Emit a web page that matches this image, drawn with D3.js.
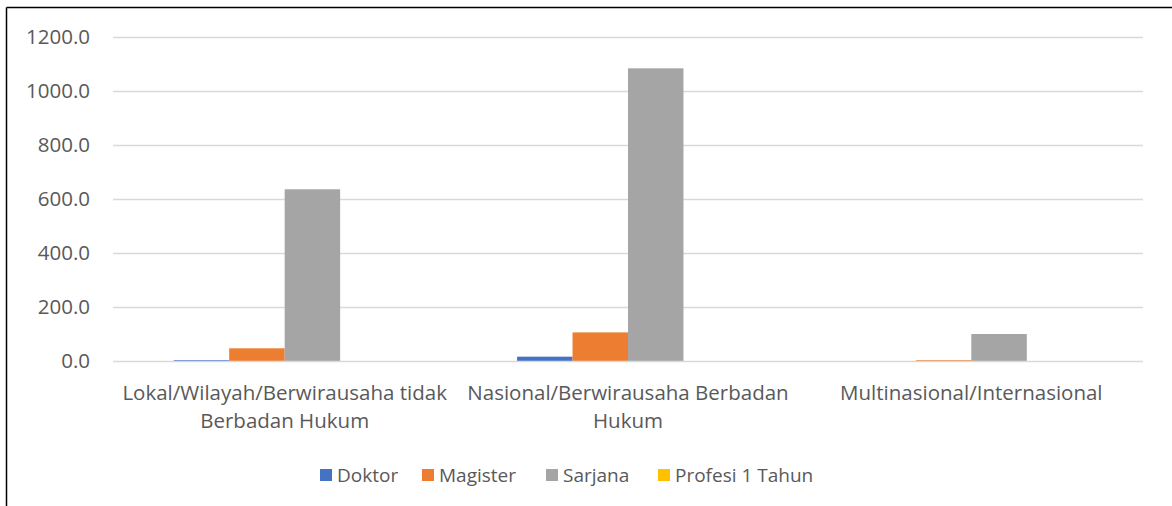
<!DOCTYPE html>
<html>
<head>
<meta charset="utf-8">
<script src="https://cdn.jsdelivr.net/npm/d3@7"></script>
<style>
  body { margin: 0; background: #fff; }
  svg { display: block; font-family: 'Open Sans', sans-serif; }
</style>
</head>
<body>
<svg id="chart" width="1172" height="506"></svg>
<script>
const categories = [
  'Lokal/Wilayah/Berwirausaha tidak Berbadan Hukum',
  'Nasional/Berwirausaha Berbadan Hukum',
  'Multinasional/Internasional'
];
const seriesNames = ['Doktor', 'Magister', 'Sarjana', 'Profesi 1 Tahun'];
const colors = ['#4472c4', '#ed7d31', '#a5a5a5', '#ffc000'];
const doktor = [3, 16, 0];
const magister = [47, 106, 3];
const sarjana = [636, 1084, 100];
const profesi = [0, 0, 0];
const yTicks = [0, 200, 400, 600, 800, 1000, 1200];

const values = [doktor, magister, sarjana, profesi];
const w = 1172, h = 506;
const margin = { top: 37, right: 29, bottom: 145, left: 113 };
const axisFont = '20.5px';
const legendFont = '19px';
const svg = d3.select('#chart');

// frame (only top and left edges show in the reference)
svg.append('line').attr('x1', 6.5).attr('x2', w).attr('y1', 7.5).attr('y2', 7.5)
  .attr('stroke', '#000').attr('stroke-width', 1.5);
svg.append('line').attr('x1', 6.5).attr('x2', 6.5).attr('y1', 7.5).attr('y2', h)
  .attr('stroke', '#000').attr('stroke-width', 1.5);

const y = d3.scaleLinear()
  .domain([0, 1200])
  .range([h - margin.bottom, margin.top]);

const x0 = d3.scaleBand()
  .domain(categories)
  .range([margin.left, w - margin.right])
  .padding(0);

const bw = x0.bandwidth();
const gap = bw * 2.19 / 6.19;
const x1 = d3.scaleBand()
  .domain(seriesNames)
  .range([gap / 2, bw - gap / 2]);

// gridlines
svg.append('g').selectAll('line')
  .data(yTicks.filter(d => d > 0))
  .enter()
  .append('line')
  .attr('x1', margin.left)
  .attr('x2', w - margin.right)
  .attr('y1', d => Math.round(y(d)) + 0.5)
  .attr('y2', d => Math.round(y(d)) + 0.5)
  .attr('stroke', '#d9d9d9')
  .attr('stroke-width', 1.3);

// y labels
svg.append('g').selectAll('text')
  .data(yTicks)
  .enter()
  .append('text')
  .attr('x', 90)
  .attr('y', d => y(d))
  .attr('dy', '0.35em')
  .attr('text-anchor', 'end')
  .attr('fill', '#595959')
  .style('font-size', axisFont)
  .text(d => d3.format('.1f')(d));

// bars
const groups = svg.append('g').selectAll('g')
  .data(categories)
  .enter()
  .append('g')
  .attr('transform', d => `translate(${x0(d)},0)`);

groups.selectAll('rect')
  .data((c, ci) => seriesNames.map((s, si) => ({ s, v: values[si][ci], color: colors[si] })))
  .enter()
  .append('rect')
  .attr('x', d => x1(d.s))
  .attr('width', x1.bandwidth())
  .attr('y', d => y(d.v))
  .attr('height', d => y(0) - y(d.v))
  .attr('fill', d => d.color);

// x axis line
svg.append('line')
  .attr('x1', margin.left)
  .attr('x2', w - margin.right)
  .attr('y1', Math.round(y(0)) + 0.5)
  .attr('y2', Math.round(y(0)) + 0.5)
  .attr('stroke', '#d9d9d9')
  .attr('stroke-width', 1.3);

// category labels, wrapped to the band width
const catLabels = svg.append('g').selectAll('text')
  .data(categories)
  .enter()
  .append('text')
  .attr('x', d => x0(d) + bw / 2)
  .attr('y', 400)
  .attr('text-anchor', 'middle')
  .attr('fill', '#595959')
  .style('font-size', axisFont);

catLabels.each(function(d) {
  const t = d3.select(this);
  const words = d.split(' ');
  let line = [];
  let tspan = t.append('tspan').attr('x', x0(d) + bw / 2).attr('dy', 0);
  words.forEach(word => {
    line.push(word);
    tspan.text(line.join(' '));
    if (tspan.node().getComputedTextLength() > bw - 2 && line.length > 1) {
      line.pop();
      tspan.text(line.join(' '));
      line = [word];
      tspan = t.append('tspan').attr('x', x0(d) + bw / 2).attr('dy', 28).text(word);
    }
  });
});

// legend
const legendX = [320, 422, 546, 658];
const legend = svg.append('g').selectAll('g')
  .data(seriesNames)
  .enter()
  .append('g')
  .attr('transform', (d, i) => `translate(${legendX[i]},475)`);

legend.append('rect')
  .attr('x', 0)
  .attr('y', -6)
  .attr('width', 12)
  .attr('height', 12)
  .attr('fill', (d, i) => colors[i]);

legend.append('text')
  .attr('x', 17)
  .attr('y', 0)
  .attr('dy', '0.35em')
  .attr('fill', '#595959')
  .style('font-size', legendFont)
  .text(d => d);
</script>
</body>
</html>
